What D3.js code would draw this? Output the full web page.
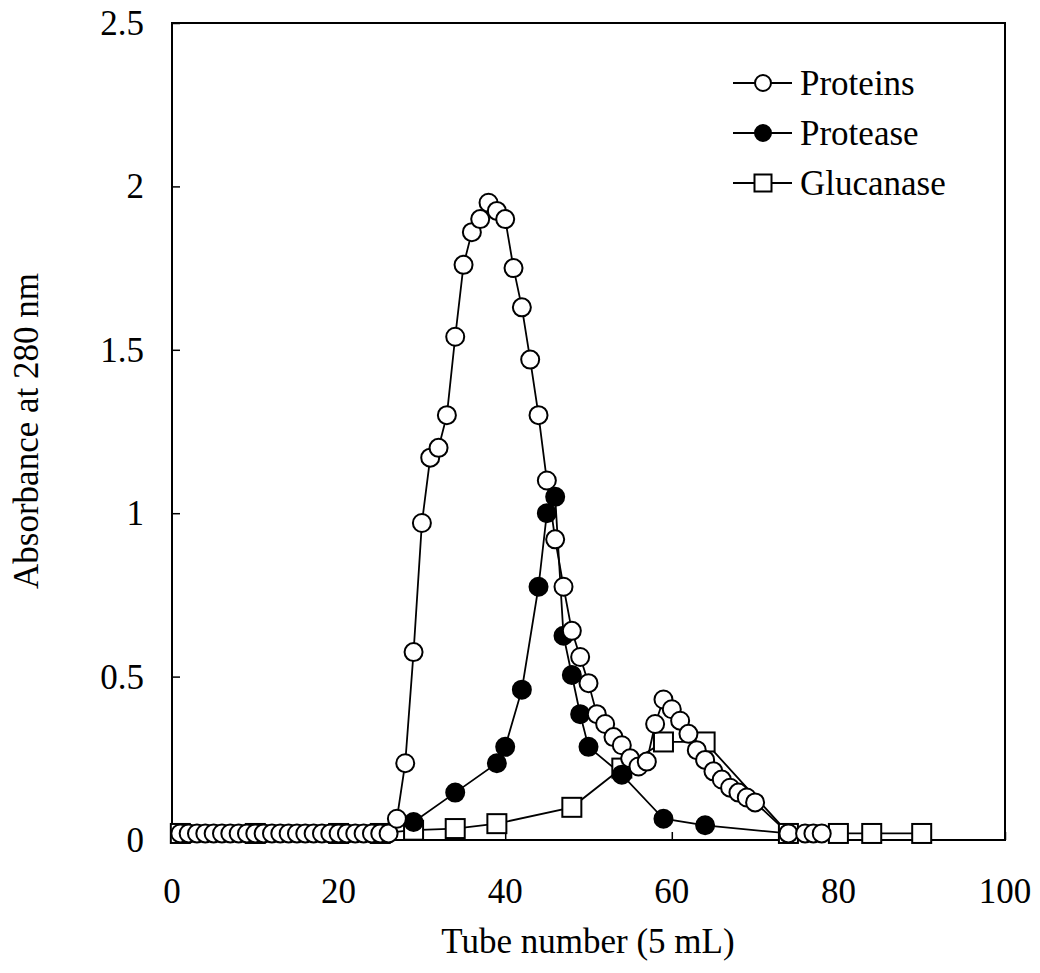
<!DOCTYPE html>
<html><head><meta charset="utf-8">
<script src="https://cdn.jsdelivr.net/npm/d3@7"></script>
<style>body{margin:0;background:#fff}text{font-family:"Liberation Serif","Times New Roman",serif;fill:#000}</style>
</head><body><svg id="c" width="1040" height="973"></svg>
<script>
const proteinTubes = [1,2,3,4,5,6,7,8,9,10,11,12,13,14,15,16,17,18,19,20,21,22,23,24,25,26,27,28,29,30,31,32,33,34,35,36,37,38,39,40,41,42,43,44,45,46,47,48,49,50,51,52,53,54,55,56,57,58,59,60,61,62,63,64,65,66,67,68,69,70,74,76,77,78];
const proteinValues = [0.02,0.02,0.02,0.02,0.02,0.02,0.02,0.02,0.02,0.02,0.02,0.02,0.02,0.02,0.02,0.02,0.02,0.02,0.02,0.02,0.02,0.02,0.02,0.02,0.02,0.02,0.065,0.235,0.575,0.97,1.17,1.2,1.3,1.54,1.76,1.86,1.9,1.95,1.925,1.9,1.75,1.63,1.47,1.3,1.1,0.92,0.775,0.64,0.56,0.48,0.385,0.355,0.315,0.29,0.25,0.225,0.24,0.355,0.43,0.4,0.365,0.325,0.275,0.245,0.21,0.185,0.16,0.145,0.13,0.115,0.02,0.02,0.02,0.02];
const proteaseTubes = [29,34,39,40,42,44,45,46,47,48,49,50,54,59,64,74];
const proteaseValues = [0.055,0.145,0.235,0.285,0.46,0.775,1.0,1.05,0.625,0.505,0.385,0.285,0.2,0.065,0.045,0.02];
const glucanaseTubes = [1,10,20,25,29,34,39,48,54,59,64,74,80,84,90];
const glucanaseValues = [0.02,0.02,0.02,0.02,0.03,0.035,0.05,0.1,0.22,0.3,0.3,0.02,0.02,0.02,0.02];
const xTicks = [0,20,40,60,80,100];
const yTicks = [0,0.5,1,1.5,2,2.5];
const yTickLabels = ["0","0.5","1","1.5","2","2.5"];
const legendNames = ["Proteins","Protease","Glucanase"];
const xTitle = "Tube number (5 mL)";
const yTitle = "Absorbance at 280 nm";

const svg = d3.select("#c");
const L=172,R=1005,T=23,B=840;
const x = d3.scaleLinear().domain([0,100]).range([L,R]);
const y = d3.scaleLinear().domain([0,2.5]).range([B,T]);
const FS = 35;

svg.append("rect").attr("x",L).attr("y",T).attr("width",R-L).attr("height",B-T)
  .attr("fill","none").attr("stroke","#000").attr("stroke-width",2);

const xa = svg.append("g").attr("transform",`translate(0,${B})`)
  .call(d3.axisTop(x).tickValues(xTicks).tickSize(8).tickFormat(""));
xa.select(".domain").remove();
xa.selectAll("line").attr("stroke","#000").attr("stroke-width",1.5);
const ya = svg.append("g").attr("transform",`translate(${L},0)`)
  .call(d3.axisRight(y).tickValues(yTicks).tickSize(8).tickFormat(""));
ya.select(".domain").remove();
ya.selectAll("line").attr("stroke","#000").attr("stroke-width",1.5);

svg.append("g").selectAll("text").data(xTicks).join("text")
  .attr("x",d=>x(d)).attr("y",B+63).attr("text-anchor","middle")
  .attr("font-size",FS).text(d=>d);
svg.append("g").selectAll("text").data(yTicks).join("text")
  .attr("x",144).attr("y",d=>y(d)+12).attr("text-anchor","end")
  .attr("font-size",FS).text((d,i)=>yTickLabels[i]);

svg.append("text").attr("x",588).attr("y",953).attr("text-anchor","middle")
  .attr("font-size",FS).text(xTitle);
svg.append("text").attr("transform",`translate(38,431) rotate(-90)`).attr("text-anchor","middle")
  .attr("font-size",FS).text(yTitle);

const line = d3.line().x(d=>x(d[0])).y(d=>y(d[1]));
const series = [
  {t:glucanaseTubes,v:glucanaseValues,type:"square"},
  {t:proteaseTubes,v:proteaseValues,type:"filled"},
  {t:proteinTubes,v:proteinValues,type:"open"}
];
series.forEach(s=>{
  const pts = s.t.map((t,i)=>[t,s.v[i]]);
  svg.append("path").datum(pts).attr("d",line).attr("fill","none")
    .attr("stroke","#000").attr("stroke-width",1.8);
});
function marker(g,type,cx,cy,r){
  if(type==="square"){
    g.append("rect").attr("x",cx-r-0.5).attr("y",cy-r-0.5).attr("width",2*r+1).attr("height",2*r+1)
     .attr("fill","#fff").attr("stroke","#000").attr("stroke-width",2);
  } else {
    g.append("circle").attr("cx",cx).attr("cy",cy).attr("r",r)
     .attr("fill",type==="filled"?"#000":"#fff").attr("stroke","#000").attr("stroke-width",2);
  }
}
series.forEach(s=>{
  const g = svg.append("g");
  s.t.forEach((t,i)=>marker(g,s.type,x(t),y(s.v[i]),9));
});

const legTypes=["open","filled","square"];
legendNames.forEach((n,i)=>{
  const cy = 83+50*i;
  const g = svg.append("g");
  g.append("line").attr("x1",733).attr("x2",792).attr("y1",cy).attr("y2",cy)
    .attr("stroke","#000").attr("stroke-width",1.8);
  marker(g,legTypes[i],763,cy,8);
  g.append("text").attr("x",800).attr("y",cy+12).attr("font-size",FS).text(n);
});
</script></body></html>
